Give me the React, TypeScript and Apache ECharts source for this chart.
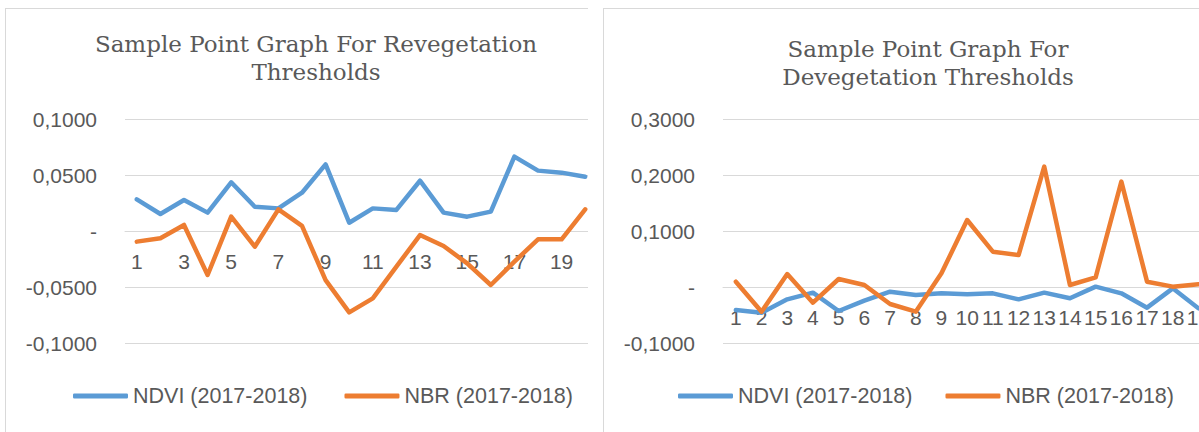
import React, { useEffect, useRef } from "react";
import * as echarts from "echarts";

const CATEGORIES = ["1", "2", "3", "4", "5", "6", "7", "8", "9", "10", "11", "12", "13", "14", "15", "16", "17", "18", "19", "20"];
const SERIES_NAMES = ["NDVI (2017-2018)", "NBR (2017-2018)"];

const REVEG_NDVI = [0.0283, 0.0152, 0.0277, 0.0164, 0.0435, 0.0217, 0.0202, 0.0342, 0.0595, 0.0074, 0.0202, 0.0188, 0.0449, 0.0164, 0.0128, 0.0173, 0.0664, 0.0539, 0.0521, 0.0485];
const REVEG_NBR = [-0.0095, -0.0065, 0.0054, -0.0393, 0.0128, -0.014, 0.0193, 0.0045, -0.0438, -0.0726, -0.0601, -0.0318, -0.0036, -0.0134, -0.0289, -0.0482, -0.0274, -0.0074, -0.0074, 0.0193];

const DEVEG_NDVI = [-0.0411, -0.0458, -0.022, -0.0101, -0.0429, -0.0244, -0.0083, -0.0143, -0.0113, -0.0131, -0.0113, -0.022, -0.0101, -0.0202, 0.0006, -0.0113, -0.0369, -0.0024, -0.0381, -0.045];
const DEVEG_NBR = [0.0095, -0.0441, 0.0232, -0.028, 0.0143, 0.0036, -0.0304, -0.0441, 0.0244, 0.1196, 0.0631, 0.0571, 0.2149, 0.0036, 0.0173, 0.1881, 0.0095, 0.0006, 0.0048, 0.006];

const REVEG_TITLE = ["Sample Point Graph For Revegetation", "Thresholds"];
const DEVEG_TITLE = ["Sample Point Graph For", "Devegetation Thresholds"];

const BLUE = "#5B9BD5";
const ORANGE = "#ED7D31";
const TEXT = "#595959";
const GRID = "#d9d9d9";
const SANS = "'Liberation Sans', Arial, sans-serif";
const SERIF = "'DejaVu Serif', serif";

const GRID_HEIGHT = 224;

function fmt(v: number) {
  if (Math.abs(v) < 1e-9) return "-";
  return v.toFixed(4).replace(".", ",");
}

function buildOption(cfg: {
  title: string[];
  titleX: number;
  titleTop: number;
  ndvi: number[];
  nbr: number[];
  min: number;
  max: number;
  interval: number;
  gridWidth: number;
  labelInterval: number;
  legendLeft: number;
  legendGap: number;
}) {
  // place the category axis (line + labels) at the zero value, as the original does
  const zeroOffset = -((0 - cfg.min) / (cfg.max - cfg.min)) * GRID_HEIGHT;
  return {
    animation: false,
    graphic: [
      {
        type: "text",
        x: cfg.titleX,
        y: cfg.titleTop,
        style: {
          text: cfg.title.join("\n"),
          textAlign: "center",
          textVerticalAlign: "top",
          fontFamily: SERIF,
          fontSize: 23,
          lineHeight: 28,
          fill: TEXT,
        },
      },
    ],
    legend: {
      left: cfg.legendLeft,
      top: 376,
      padding: 0,
      icon: "roundRect",
      itemWidth: 55,
      itemHeight: 5,
      itemGap: cfg.legendGap,
      textStyle: { fontFamily: SANS, fontSize: 21.5, color: TEXT },
      data: SERIES_NAMES,
    },
    grid: { left: 119, top: 110, width: cfg.gridWidth, height: GRID_HEIGHT, containLabel: false },
    xAxis: {
      type: "category",
      data: CATEGORIES,
      boundaryGap: true,
      offset: zeroOffset,
      axisLine: { show: true, onZero: false, lineStyle: { color: GRID, width: 1 } },
      axisTick: { show: false },
      axisLabel: {
        interval: cfg.labelInterval,
        margin: 20,
        fontFamily: SANS,
        fontSize: 21,
        color: TEXT,
      },
      splitLine: { show: false },
    },
    yAxis: {
      type: "value",
      min: cfg.min,
      max: cfg.max,
      interval: cfg.interval,
      axisLine: { show: false },
      axisTick: { show: false },
      axisLabel: {
        margin: 28,
        fontFamily: SANS,
        fontSize: 21,
        color: TEXT,
        formatter: fmt,
      },
      splitLine: { show: true, lineStyle: { color: GRID, width: 1 } },
    },
    series: [
      {
        name: SERIES_NAMES[0],
        type: "line",
        data: cfg.ndvi,
        symbol: "none",
        color: BLUE,
        lineStyle: { color: BLUE, width: 4.5, cap: "round", join: "round" },
      },
      {
        name: SERIES_NAMES[1],
        type: "line",
        data: cfg.nbr,
        symbol: "none",
        color: ORANGE,
        lineStyle: { color: ORANGE, width: 4.5, cap: "round", join: "round" },
      },
    ],
  };
}

function Chart({ option, width, height }: { option: any; width: number; height: number }) {
  const ref = useRef<HTMLDivElement>(null);
  useEffect(() => {
    if (!ref.current) return;
    const chart = echarts.init(ref.current, undefined, { renderer: "svg" });
    chart.setOption(option);
    return () => chart.dispose();
  }, [option]);
  return <div ref={ref} style={{ width, height }} />;
}

const leftOption = buildOption({
  title: REVEG_TITLE,
  titleX: 310,
  titleTop: 21,
  ndvi: REVEG_NDVI,
  nbr: REVEG_NBR,
  min: -0.1,
  max: 0.1,
  interval: 0.05,
  gridWidth: 472,
  labelInterval: 1,
  legendLeft: 67,
  legendGap: 37,
});

const rightOption = buildOption({
  title: DEVEG_TITLE,
  titleX: 324,
  titleTop: 26,
  ndvi: DEVEG_NDVI,
  nbr: DEVEG_NBR,
  min: -0.1,
  max: 0.3,
  interval: 0.1,
  gridWidth: 514,
  labelInterval: 0,
  legendLeft: 74,
  legendGap: 33,
});

export default function App() {
  return (
    <div
      style={{
        position: "fixed",
        left: 0,
        top: 0,
        width: 1199,
        height: 432,
        overflow: "hidden",
        background: "#ffffff",
      }}
    >
      <div
        style={{
          position: "absolute",
          left: 5,
          top: 8,
          width: 582,
          height: 423,
          overflow: "hidden",
          borderLeft: `1px solid ${GRID}`,
          borderTop: `1px solid ${GRID}`,
        }}
      >
        <Chart option={leftOption} width={640} height={423} />
      </div>
      <div
        style={{
          position: "absolute",
          left: 603,
          top: 8,
          width: 595,
          height: 423,
          overflow: "hidden",
          borderLeft: `1px solid ${GRID}`,
          borderTop: `1px solid ${GRID}`,
        }}
      >
        <Chart option={rightOption} width={680} height={423} />
      </div>
    </div>
  );
}
